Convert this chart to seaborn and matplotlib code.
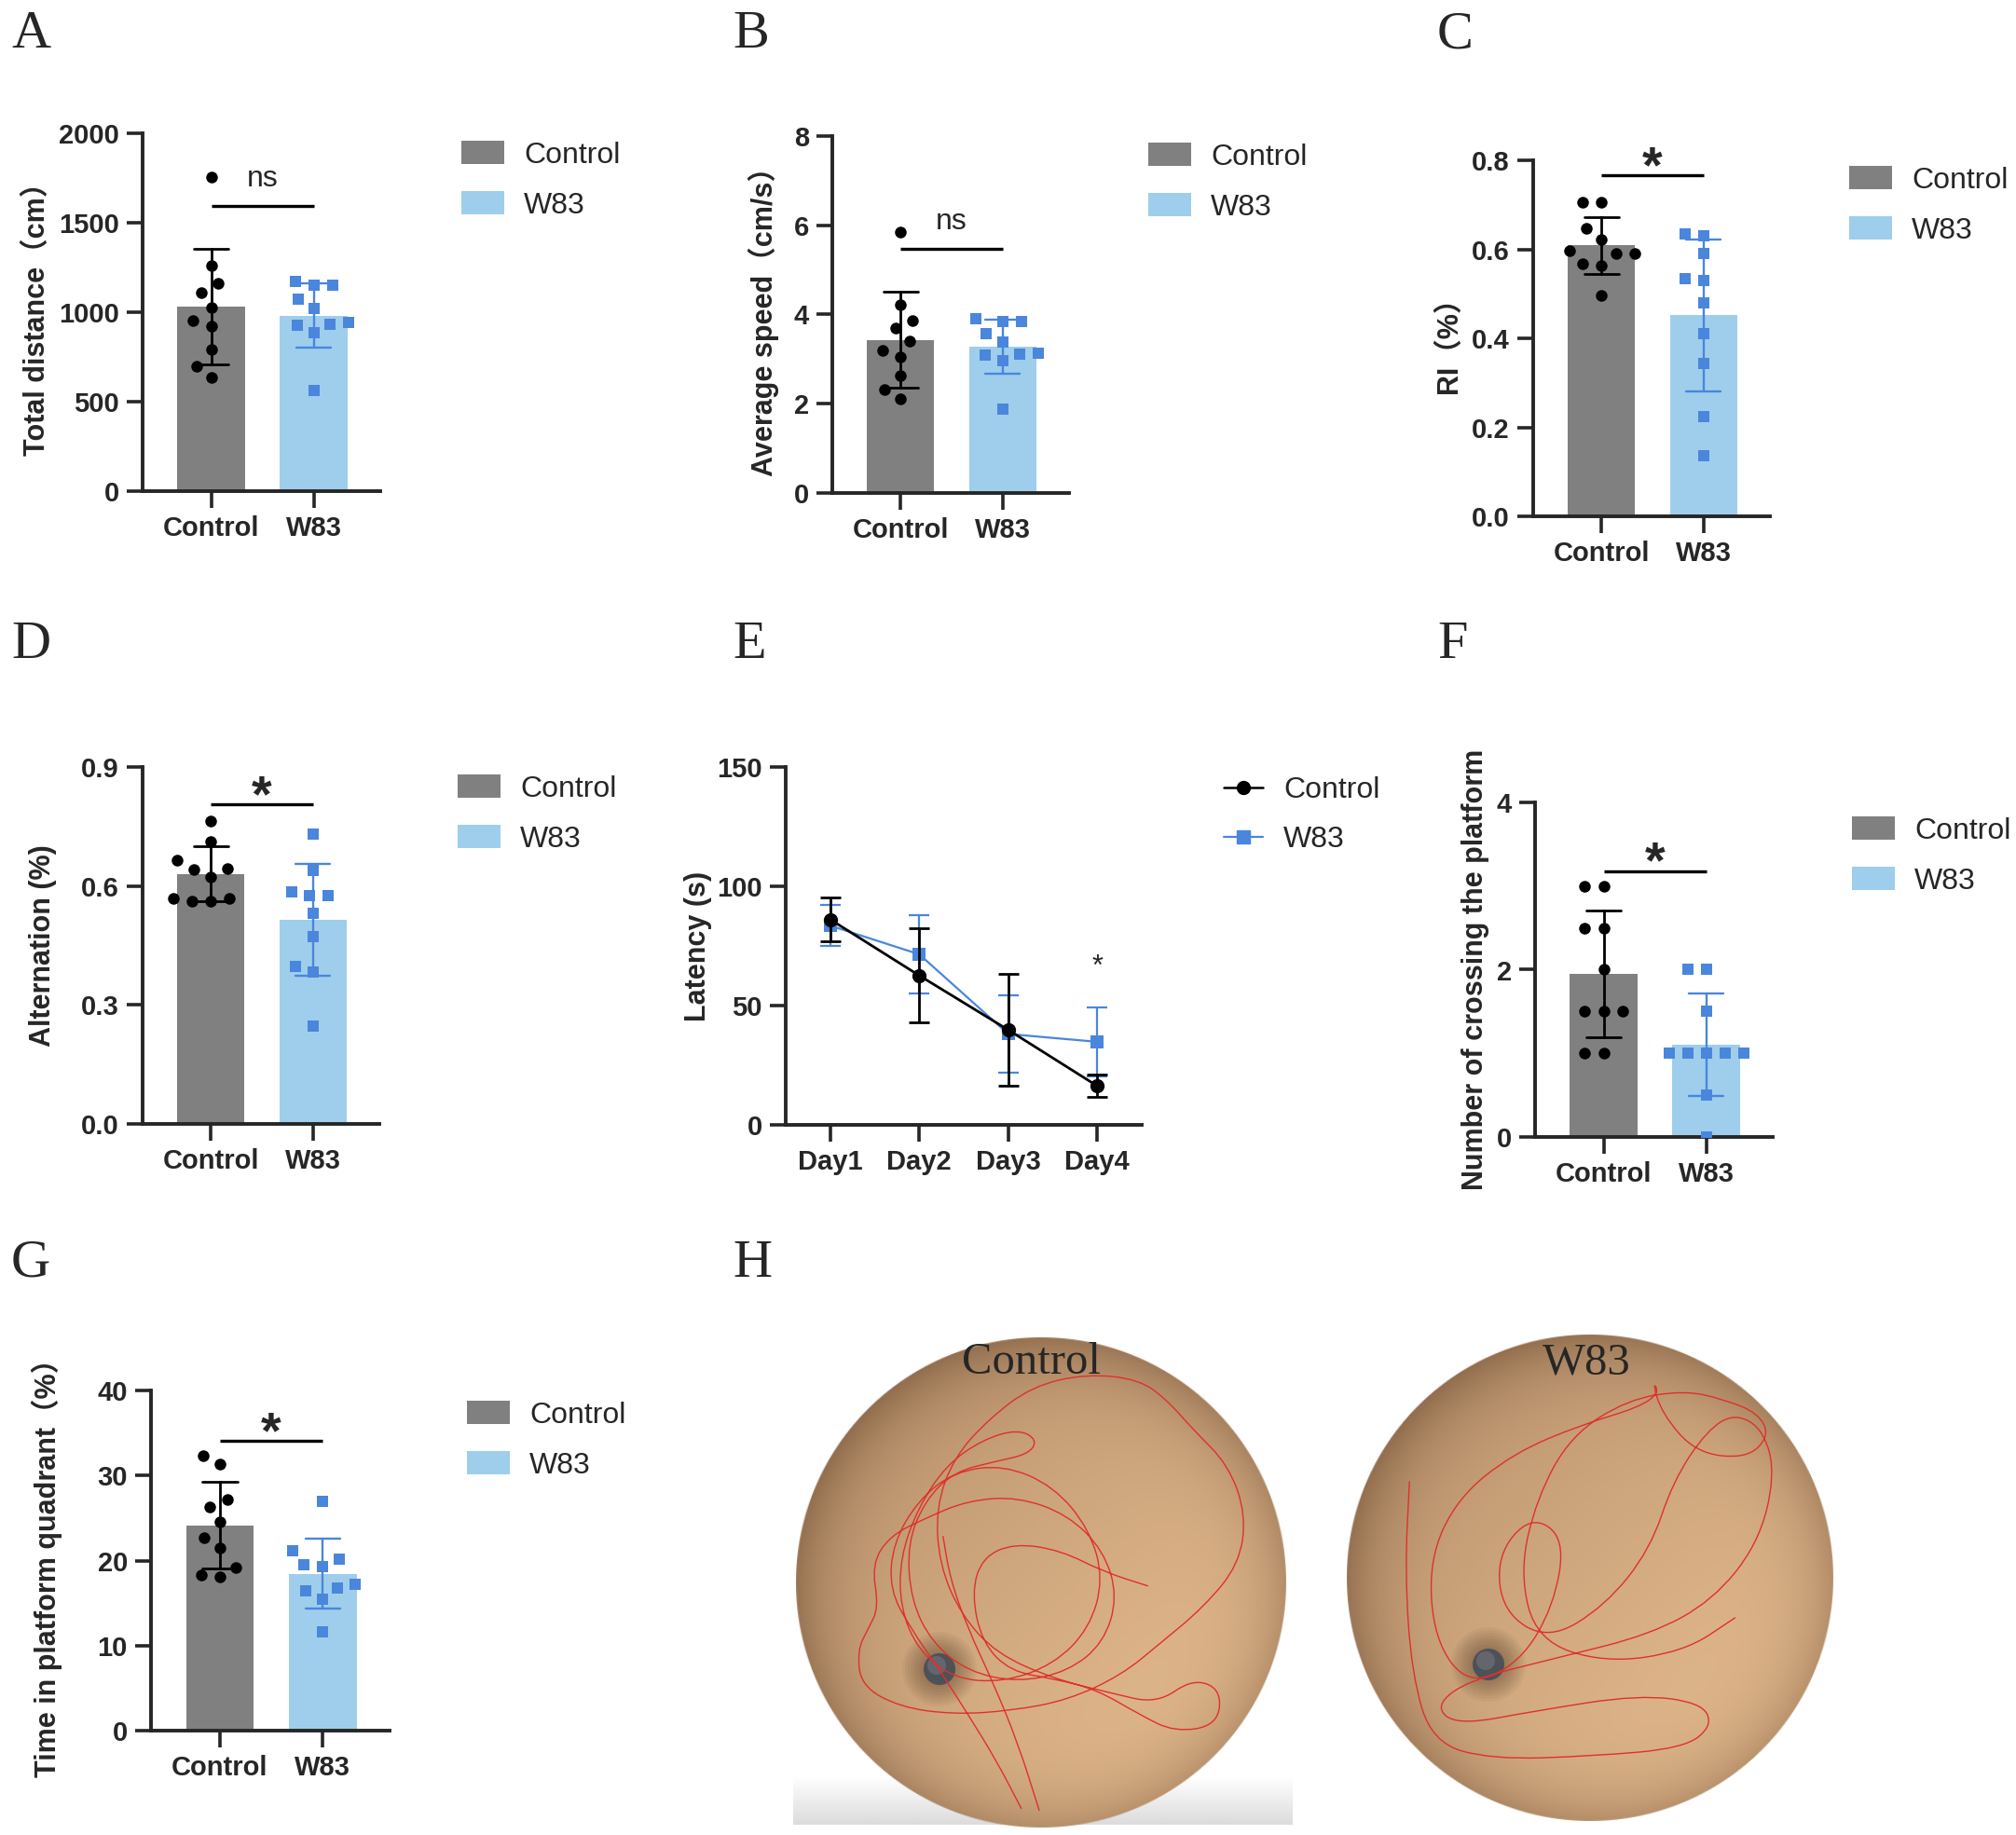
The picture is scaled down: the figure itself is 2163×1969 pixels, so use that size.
import numpy as np
import pandas as pd
import matplotlib
matplotlib.use('Agg')
import matplotlib.pyplot as plt
import seaborn as sns
from matplotlib.patches import Patch, Circle, PathPatch
from matplotlib.lines import Line2D
from matplotlib.path import Path
from matplotlib.ticker import FormatStrFormatter

sns.set_style('ticks')
plt.rcParams['font.family'] = ['Liberation Sans', 'Noto Sans CJK SC']
plt.rcParams['axes.unicode_minus'] = False

# ---------------- data ----------------
groups = ['Control', 'W83']

# A: total distance (cm)
dist_ctrl = [1753, 1262, 1160, 1111, 1024, 955, 920, 790, 698, 634]
dist_w83 = [1172, 1151, 1151, 1071, 1019, 943, 929, 934, 885, 561]
# B: average speed (cm/s)
speed_ctrl = [5.84, 4.22, 3.87, 3.69, 3.41, 3.19, 3.05, 2.64, 2.32, 2.11]
speed_w83 = [3.91, 3.85, 3.84, 3.58, 3.39, 3.14, 3.09, 3.11, 2.96, 1.88]
# C: RI
ri_ctrl = [0.705, 0.705, 0.647, 0.622, 0.596, 0.591, 0.590, 0.567, 0.564, 0.497]
ri_w83 = [0.635, 0.631, 0.591, 0.534, 0.529, 0.479, 0.411, 0.344, 0.225, 0.137]
# D: alternation
alt_ctrl = [0.763, 0.712, 0.665, 0.643, 0.641, 0.622, 0.569, 0.569, 0.561, 0.561]
alt_w83 = [0.730, 0.640, 0.584, 0.576, 0.576, 0.532, 0.473, 0.398, 0.383, 0.247]
# E: escape latency (mean, sd)
days = ['Day1', 'Day2', 'Day3', 'Day4']
lat_ctrl_mean = [86.1, 62.6, 39.8, 16.3]
lat_ctrl_sd = [9.3, 19.7, 23.4, 4.7]
lat_w83_mean = [83.5, 71.5, 38.1, 34.8]
lat_w83_sd = [8.6, 16.3, 16.3, 14.5]
# F: platform crossings
cross_ctrl = [3, 3, 2.5, 2.5, 2, 1.5, 1.5, 1.5, 1, 1]
cross_w83 = [2, 2, 1.5, 1, 1, 1, 1, 1, 0.5, 0]
# G: time in target quadrant (%)
quad_ctrl = [32.3, 31.3, 27.2, 26.3, 24.5, 22.7, 21.5, 19.2, 18.1, 18.3]
quad_w83 = [27.0, 21.1, 20.2, 19.5, 19.25, 17.2, 16.8, 16.4, 15.45, 11.6]

# H: swim paths (rough tracing of the photo), circle-relative
traj_ctrl = [(670, 1465), (600, 1330), (520, 1200), (440, 1075), (360, 960), (300, 850), (310, 720),
             (380, 600), (480, 520), (620, 500), (760, 560), (860, 680), (900, 820), (860, 960),
             (760, 1060), (620, 1110), (480, 1100), (380, 1020), (330, 900), (330, 760), (380, 620),
             (460, 500), (560, 430), (660, 400), (715, 430), (690, 470), (600, 490), (480, 520),
             (400, 600), (350, 720), (360, 880), (420, 1000), (520, 1080), (660, 1110), (800, 1080),
             (900, 1000), (940, 870), (900, 740), (800, 640), (660, 590), (520, 600), (400, 650),
             (300, 700), (250, 780), (270, 900), (240, 960), (210, 1020), (220, 1120), (330, 1180),
             (480, 1200), (640, 1190), (800, 1160), (950, 1090), (1060, 1000), (1180, 900),
             (1280, 780), (1300, 640), (1250, 500), (1150, 400), (1080, 320), (1000, 260), (850, 245),
             (700, 280), (580, 370), (480, 480), (430, 620), (440, 780), (500, 920), (600, 1030),
             (760, 1100), (920, 1140), (1050, 1170), (1150, 1100), (1230, 1130), (1220, 1230),
             (1100, 1250), (1000, 1200), (880, 1130), (760, 1100), (640, 1080), (560, 1000),
             (530, 860), (560, 760), (650, 720), (780, 740), (900, 800), (1025, 840)]
traj_ctrl_b = [(720, 1470), (660, 1280), (590, 1110), (520, 960), (470, 820), (450, 700)]
traj_w83 = [(1078, 1150), (1074, 1230), (1080, 1320), (1098, 1380), (1150, 1395), (1240, 1392),
            (1320, 1385), (1345, 1365), (1335, 1345), (1280, 1338), (1190, 1352), (1120, 1365),
            (1100, 1348), (1130, 1325), (1210, 1305), (1290, 1285), (1345, 1255), (1385, 1205),
            (1400, 1145), (1390, 1105), (1365, 1090), (1340, 1105), (1310, 1150), (1290, 1210),
            (1250, 1260), (1200, 1290), (1160, 1265), (1155, 1215), (1185, 1180), (1215, 1200),
            (1205, 1260), (1175, 1310), (1130, 1330), (1100, 1290), (1095, 1220), (1120, 1165),
            (1170, 1125), (1230, 1100), (1280, 1085), (1298, 1072), (1292, 1062), (1300, 1090),
            (1330, 1125), (1375, 1130), (1395, 1110), (1385, 1090), (1355, 1078), (1320, 1070),
            (1270, 1078), (1220, 1110), (1190, 1165), (1175, 1230), (1190, 1290), (1250, 1310),
            (1320, 1300), (1365, 1270)]

# ---------------- styling ----------------
GRAY = '#808080'
LIGHT = '#9ECEEB'
BLUE = '#4A86DC'
SPINE_W = 2.8
TICK_FS = 21
LABEL_FS = 22
CLEAR = (1, 1, 1, 0)

W, H = 2163, 1969
fig = plt.figure(figsize=(W / 100, H / 100), dpi=100)


def px_axes(x0, y0, x1, y1):
    return fig.add_axes([x0 / W, 1 - y1 / H, (x1 - x0) / W, (y1 - y0) / H])


def style_axes(ax, box, label_x):
    for s in ['top', 'right']:
        ax.spines[s].set_visible(False)
    for s in ['left', 'bottom']:
        ax.spines[s].set_linewidth(SPINE_W)
    ax.tick_params(axis='y', width=2.6, length=12, labelsize=TICK_FS, pad=6)
    ax.tick_params(axis='x', width=2.6, length=13, labelsize=TICK_FS, pad=6)
    for t in ax.get_xticklabels() + ax.get_yticklabels():
        t.set_fontweight('bold')
    ax.yaxis.label.set_fontweight('bold')
    ax.yaxis.label.set_fontsize(LABEL_FS)
    ax.yaxis.set_label_coords((label_x - box[0]) / (box[2] - box[0]), 0.5)


def patch_legend(ax, x, yc):
    handles = [Patch(facecolor=GRAY, edgecolor='none'), Patch(facecolor=LIGHT, edgecolor='none')]
    ax.legend(handles, groups, loc='upper left', bbox_to_anchor=(x / W, 1 - (yc - 19) / H),
              bbox_transform=fig.transFigure, frameon=False, borderpad=0, borderaxespad=0,
              handlelength=1.45, handleheight=0.85, handletextpad=0.65, labelspacing=0.72,
              prop={'family': 'Liberation Sans', 'size': 23})


def bar_panel(box, ctrl, w83, ylim, yticks, ylabel, label_x, sig_y, sig, leg, fmt=None):
    ax = px_axes(*box)
    df = pd.DataFrame({'group': ['Control'] * len(ctrl) + ['W83'] * len(w83),
                       'value': list(ctrl) + list(w83)})
    sns.barplot(data=df, x='group', y='value', hue='group', order=groups, hue_order=groups,
                palette=[GRAY, LIGHT], saturation=1, width=0.66, errorbar='sd', capsize=0.34,
                err_kws={'linewidth': 2.0, 'color': 'black'}, linewidth=0, legend=False, ax=ax)
    for ln in ax.lines:
        ln.set_zorder(4)
        if np.nanmean(ln.get_xdata()) > 0.5:
            ln.set_color(BLUE)
            ln.set_linewidth(1.7)
    # an invisible edge widens the swarm spacing, like the GraphPad scatter
    sns.swarmplot(data=df[df.group == 'Control'], x='group', y='value', order=groups,
                  color='black', size=9, marker='o', linewidth=5, edgecolor=CLEAR,
                  ax=ax, zorder=3)
    sns.swarmplot(data=df[df.group == 'W83'], x='group', y='value', order=groups,
                  color=BLUE, size=8.2, marker='s', linewidth=5.5, edgecolor=CLEAR,
                  ax=ax, zorder=3)
    ax.set_xlim(-0.67, 1.65)
    ax.set_ylim(*ylim)
    ax.set_yticks(yticks)
    if fmt:
        ax.yaxis.set_major_formatter(FormatStrFormatter(fmt))
    ax.set_xlabel('')
    ax.set_ylabel(ylabel)
    # significance bar
    ax.plot([0, 1], [sig_y, sig_y], color='black', lw=2.4, solid_capstyle='butt', clip_on=False)
    if sig == 'ns':
        ax.annotate('ns', (0.5, sig_y), xytext=(0, 15), textcoords='offset points',
                    ha='center', va='baseline', fontsize=23, annotation_clip=False)
    else:
        ax.annotate('*', (0.5, sig_y), xytext=(0, -5), textcoords='offset points',
                    ha='center', va='baseline', fontsize=40, fontweight='bold',
                    annotation_clip=False)
    style_axes(ax, box, label_x)
    patch_legend(ax, *leg)
    return ax


bar_panel((153, 143, 408, 527), dist_ctrl, dist_w83, (0, 2000), [0, 500, 1000, 1500, 2000],
          'Total distance（cm）', 55, 1594, 'ns', (495, 170))
bar_panel((893, 146, 1147, 529), speed_ctrl, speed_w83, (0, 8), [0, 2, 4, 6, 8],
          'Average speed（cm/s）', 836, 5.47, 'ns', (1232, 172))
bar_panel((1645, 172, 1899, 554), ri_ctrl, ri_w83, (0, 0.8), [0, 0.2, 0.4, 0.6, 0.8],
          'RI（%）', 1570, 0.766, '*', (1984, 197), '%.1f')
bar_panel((153, 823, 407, 1206), alt_ctrl, alt_w83, (0, 0.9), [0, 0.3, 0.6, 0.9],
          'Alternation (%)', 61, 0.806, '*', (491, 850), '%.1f')
bar_panel((1647, 861, 1902, 1220), cross_ctrl, cross_w83, (0, 4), [0, 2, 4],
          'Number of crossing the platform', 1598, 3.18, '*', (1987, 895))
bar_panel((162, 1492, 418, 1857), quad_ctrl, quad_w83, (0, 40), [0, 10, 20, 30, 40],
          'Time in platform quadrant（%）', 67, 34.1, '*', (501, 1522))

# ---------------- E: latency line chart ----------------
boxE = (843, 823, 1225, 1207)
axE = px_axes(*boxE)
xpos = np.arange(len(days))
axE.errorbar(xpos, lat_w83_mean, yerr=lat_w83_sd, fmt='none', ecolor=BLUE, elinewidth=1.6,
             capsize=8, capthick=1.6, zorder=2)
sns.lineplot(x=xpos, y=lat_w83_mean, color=BLUE, marker='s', markersize=10, markeredgewidth=0,
             linewidth=1.6, ax=axE, zorder=3)
axE.errorbar(xpos, lat_ctrl_mean, yerr=lat_ctrl_sd, fmt='none', ecolor='black', elinewidth=2,
             capsize=8, capthick=2, zorder=4)
sns.lineplot(x=xpos, y=lat_ctrl_mean, color='black', marker='o', markersize=11,
             markeredgewidth=0, linewidth=2, ax=axE, zorder=5)
axE.set_xlim(-0.5, 3.5)
axE.set_ylim(0, 150)
axE.set_yticks([0, 50, 100, 150])
axE.set_xticks(xpos)
axE.set_xticklabels(days)
axE.set_ylabel('Latency (s)')
axE.annotate('*', (3, 63), ha='center', va='baseline', fontsize=22)
style_axes(axE, boxE, 764)
line_handles = [Line2D([], [], color='black', marker='o', markersize=10, lw=1.8),
                Line2D([], [], color=BLUE, marker='s', markersize=10, lw=1.6)]
axE.legend(line_handles, groups, loc='upper left', bbox_to_anchor=(1313 / W, 1 - (852 - 19) / H),
           bbox_transform=fig.transFigure, frameon=False, borderpad=0, borderaxespad=0,
           handlelength=1.3, handletextpad=0.7, labelspacing=0.72,
           prop={'family': 'Liberation Sans', 'size': 23})

# ---------------- H: water-maze swim paths ----------------
axH = px_axes(840, 1400, 1990, 1969)
axH.set_xlim(840, 1990)
axH.set_ylim(1969, 1400)
axH.axis('off')


def pool_image(n=500):
    yy, xx = np.mgrid[-1:1:n * 1j, -1:1:n * 1j]
    rr = np.hypot(xx, yy)
    light = np.array([0.87, 0.71, 0.54])
    dark = np.array([0.55, 0.41, 0.29])
    t = np.clip(0.15 + 0.55 * rr ** 6 - 0.18 * (xx + yy), 0, 1)
    rgb = light * (1 - t)[..., None] + dark * t[..., None]
    alpha = np.clip((1 - rr) * n / 2, 0, 1)
    return np.dstack([rgb, alpha])


def smooth_path(pts):
    pts = np.asarray(pts, float)
    verts = [pts[0], (pts[0] + pts[1]) / 2]
    codes = [Path.MOVETO, Path.LINETO]
    for i in range(1, len(pts) - 1):
        verts += [pts[i], (pts[i] + pts[i + 1]) / 2]
        codes += [Path.CURVE3, Path.CURVE3]
    verts.append(pts[-1])
    codes.append(Path.LINETO)
    return Path(verts, codes)


# light gray strip below the left photo
strip = np.linspace(1.0, 0.86, 50)[:, None] * np.ones((1, 10))
axH.imshow(strip, cmap='gray', vmin=0, vmax=1, extent=(851, 1387, 1958, 1905),
           aspect='auto', zorder=0)

pools = [
    # (cx, cy, r, platform x, platform y, label, paths, src center, src radius)
    (1117, 1698, 264, 1008, 1791, 'Control', [traj_ctrl, traj_ctrl_b], (725, 830), 690),
    (1706, 1693, 262, 1597, 1786, 'W83', [traj_w83], (1237, 1235), 215),
]
img = pool_image()
for cx, cy, r, px, py, name, paths, (sx, sy), sr in pools:
    axH.imshow(img, extent=(cx - r, cx + r, cy + r, cy - r), zorder=1, interpolation='bilinear')
    for rad in range(40, 18, -3):
        axH.add_patch(Circle((px, py), rad, color='#4a3422', alpha=0.06, lw=0, zorder=2))
    axH.add_patch(Circle((px, py), 17, color='#4d5158', lw=0, zorder=3))
    axH.add_patch(Circle((px - 3, py - 4), 10, color='#6d7078', lw=0, alpha=0.7, zorder=3))
    rim = Circle((cx, cy), r - 4, transform=axH.transData)
    for p in paths:
        pts = [((x - sx) / sr * r + cx, (y - sy) / sr * r + cy) for x, y in p]
        pp = PathPatch(smooth_path(pts), fill=False, edgecolor='#E0302A', lw=1.0, zorder=4)
        axH.add_patch(pp)
        pp.set_clip_path(rim)
    axH.text(cx - 10 if name == 'Control' else cx - 4, 1474, name, ha='center', va='baseline',
             fontsize=35, family='Liberation Serif', zorder=5)

# ---------------- panel letters ----------------
letters = [('A', 12, 51), ('B', 786, 51), ('C', 1542, 51),
           ('D', 12, 706), ('E', 786, 706), ('F', 1542, 706),
           ('G', 12, 1370), ('H', 786, 1370)]
for letter, x, y in letters:
    fig.text(x / W, 1 - y / H, letter, fontsize=42, family='Liberation Serif', va='baseline',
             ha='left')

fig.savefig('out.png', dpi=100, facecolor='white')
